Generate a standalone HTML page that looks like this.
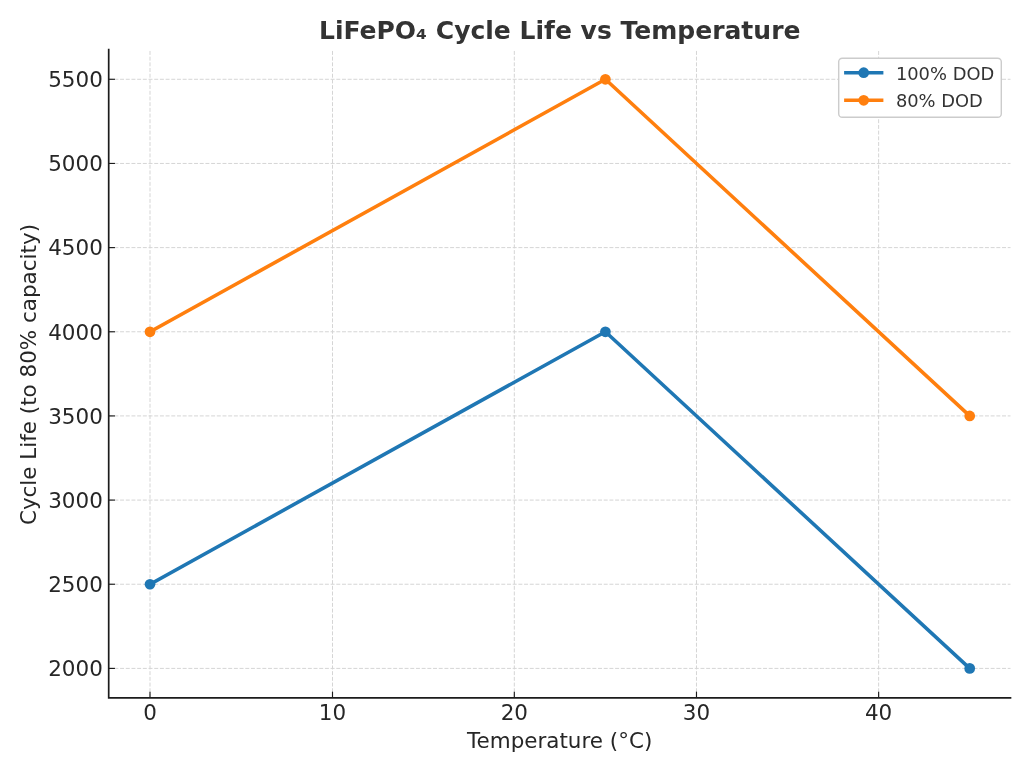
<!DOCTYPE html>
<html lang="en"><head><meta charset="utf-8"><title>LiFePO₄ Cycle Life vs Temperature</title>
<style>
html,body{margin:0;padding:0;background:#fff;}
body{width:1030px;height:773px;overflow:hidden;font-family:"DejaVu Sans","Liberation Sans",sans-serif;}
svg{display:block;will-change:transform;}
text{font-family:"DejaVu Sans","Liberation Sans",sans-serif;}
</style></head><body>
<svg width="1030" height="773" viewBox="0 0 1030 773">
<rect width="1030" height="773" fill="#ffffff"/>
<g stroke="#d5d5d5" stroke-width="1.00" stroke-dasharray="3.97 1.72" fill="none">
<line x1="150.00" y1="697.9" x2="150.00" y2="49.7"/>
<line x1="332.50" y1="697.9" x2="332.50" y2="49.7"/>
<line x1="514.32" y1="697.9" x2="514.32" y2="49.7"/>
<line x1="696.48" y1="697.9" x2="696.48" y2="49.7"/>
<line x1="878.64" y1="697.9" x2="878.64" y2="49.7"/>
<line x1="108.7" y1="668.40" x2="1010.5" y2="668.40"/>
<line x1="108.7" y1="584.24" x2="1010.5" y2="584.24"/>
<line x1="108.7" y1="500.08" x2="1010.5" y2="500.08"/>
<line x1="108.7" y1="415.92" x2="1010.5" y2="415.92"/>
<line x1="108.7" y1="331.77" x2="1010.5" y2="331.77"/>
<line x1="108.7" y1="247.61" x2="1010.5" y2="247.61"/>
<line x1="108.7" y1="163.45" x2="1010.5" y2="163.45"/>
<line x1="108.7" y1="79.29" x2="1010.5" y2="79.29"/>
</g>
<polyline points="150.00,584.24 605.40,331.77 969.72,668.40" fill="none" stroke="#1f77b4" stroke-width="3.58" stroke-linejoin="round" stroke-linecap="square"/>
<circle cx="150.00" cy="584.24" r="5.36" fill="#1f77b4"/>
<circle cx="605.40" cy="331.77" r="5.36" fill="#1f77b4"/>
<circle cx="969.72" cy="668.40" r="5.36" fill="#1f77b4"/>
<polyline points="150.00,331.77 605.40,79.29 969.72,415.92" fill="none" stroke="#ff7f0e" stroke-width="3.58" stroke-linejoin="round" stroke-linecap="square"/>
<circle cx="150.00" cy="331.77" r="5.36" fill="#ff7f0e"/>
<circle cx="605.40" cy="79.29" r="5.36" fill="#ff7f0e"/>
<circle cx="969.72" cy="415.92" r="5.36" fill="#ff7f0e"/>
<g stroke="#1c1c1c" stroke-width="1.15" fill="none">
<line x1="150.00" y1="697.9" x2="150.00" y2="691.64"/>
<line x1="332.50" y1="697.9" x2="332.50" y2="691.64"/>
<line x1="514.32" y1="697.9" x2="514.32" y2="691.64"/>
<line x1="696.48" y1="697.9" x2="696.48" y2="691.64"/>
<line x1="878.64" y1="697.9" x2="878.64" y2="691.64"/>
<line x1="108.7" y1="668.40" x2="114.96" y2="668.40"/>
<line x1="108.7" y1="584.24" x2="114.96" y2="584.24"/>
<line x1="108.7" y1="500.08" x2="114.96" y2="500.08"/>
<line x1="108.7" y1="415.92" x2="114.96" y2="415.92"/>
<line x1="108.7" y1="331.77" x2="114.96" y2="331.77"/>
<line x1="108.7" y1="247.61" x2="114.96" y2="247.61"/>
<line x1="108.7" y1="163.45" x2="114.96" y2="163.45"/>
<line x1="108.7" y1="79.29" x2="114.96" y2="79.29"/>
<path d="M108.7 49.7 V697.9 H1010.5" stroke-width="1.70" stroke-linecap="square" stroke-linejoin="miter"/>
</g>
<g fill="#262626" font-size="21.46px">
<text x="150.00" y="720.45" text-anchor="middle">0</text>
<text x="332.50" y="720.45" text-anchor="middle">10</text>
<text x="514.32" y="720.45" text-anchor="middle">20</text>
<text x="696.48" y="720.45" text-anchor="middle">30</text>
<text x="878.64" y="720.45" text-anchor="middle">40</text>
<text x="102.8" y="676.20" text-anchor="end">2000</text>
<text x="102.8" y="592.04" text-anchor="end">2500</text>
<text x="102.8" y="507.88" text-anchor="end">3000</text>
<text x="102.8" y="423.72" text-anchor="end">3500</text>
<text x="102.8" y="339.57" text-anchor="end">4000</text>
<text x="102.8" y="255.41" text-anchor="end">4500</text>
<text x="102.8" y="171.25" text-anchor="end">5000</text>
<text x="102.8" y="87.09" text-anchor="end">5500</text>
</g>
<text x="559.7" y="748.1" text-anchor="middle" font-size="21.46px" fill="#262626">Temperature (°C)</text>
<text transform="translate(36.3,374.55) rotate(-90)" text-anchor="middle" font-size="21.46px" fill="#262626">Cycle Life (to 80% capacity)</text>
<text x="559.7" y="38.6" text-anchor="middle" font-size="25.03px" font-weight="bold" fill="#333333">LiFePO₄ Cycle Life vs Temperature</text>
<rect x="838.7" y="58.25" width="162.6" height="59.05" rx="3.6" ry="3.6" fill="#ffffff" fill-opacity="1" stroke="#cccccc" stroke-width="1.43"/>
<line x1="845.9" y1="72.7" x2="881.6" y2="72.7" stroke="#1f77b4" stroke-width="3.58" stroke-linecap="square"/>
<circle cx="863.7" cy="72.7" r="5.36" fill="#1f77b4"/>
<text x="895.9" y="79.8" font-size="17.88px" fill="#333333">100% DOD</text>
<line x1="845.9" y1="100.3" x2="881.6" y2="100.3" stroke="#ff7f0e" stroke-width="3.58" stroke-linecap="square"/>
<circle cx="863.7" cy="100.3" r="5.36" fill="#ff7f0e"/>
<text x="895.9" y="106.7" font-size="17.88px" fill="#333333">80% DOD</text>
</svg>
</body></html>
